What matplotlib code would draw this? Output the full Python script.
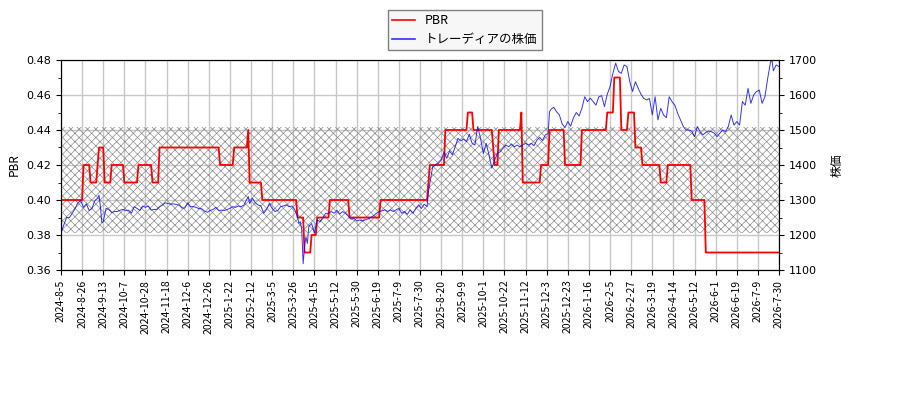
import matplotlib
matplotlib.use("Agg")
import numpy as np
import matplotlib.pyplot as plt
from matplotlib.ticker import MultipleLocator

# tick dates (every 15 trading days)
tick_labels = [
    "2024-8-5", "2024-8-26", "2024-9-13", "2024-10-7", "2024-10-28",
    "2024-11-18", "2024-12-6", "2024-12-26", "2025-1-22", "2025-2-12",
    "2025-3-5", "2025-3-26", "2025-4-15", "2025-5-12", "2025-5-30",
    "2025-6-19", "2025-7-9", "2025-7-30", "2025-8-20", "2025-9-9",
    "2025-10-1", "2025-10-22", "2025-11-12", "2025-12-3", "2025-12-23",
    "2026-1-16", "2026-2-5", "2026-2-27", "2026-3-19", "2026-4-14",
    "2026-5-12", "2026-6-1", "2026-6-19", "2026-7-9", "2026-7-30",
]

# PBR as runs: value, number of trading days
pbr_values = [0.40, 0.42, 0.41, 0.42, 0.43, 0.41, 0.42, 0.41, 0.42, 0.41,
              0.43, 0.42, 0.43, 0.44, 0.41, 0.40, 0.39, 0.37, 0.38, 0.39,
              0.40, 0.39, 0.40, 0.41, 0.42, 0.44, 0.45, 0.44, 0.43, 0.42,
              0.44, 0.45, 0.41, 0.42, 0.44, 0.42, 0.44, 0.45, 0.47, 0.44,
              0.45, 0.43, 0.42, 0.41, 0.42, 0.40, 0.37]
pbr_runs = [16, 5, 5, 1, 4, 5, 9, 10, 10, 5,
            43, 10, 10, 1, 9, 25, 5, 5, 4, 9,
            14, 22, 34, 1, 11, 16, 4, 14, 1, 3,
            16, 1, 13, 6, 11, 12, 18, 5, 5, 5,
            5, 5, 13, 5, 17, 10, 53]

# share price (trading-day index, yen)
price_day = [
    0, 2, 4, 6, 8, 10, 12, 14, 16, 18, 20, 22, 24, 26, 27, 28, 29, 30, 32, 34,
    36, 38, 40, 42, 44, 46, 48, 50, 52, 54, 56, 58, 60, 62, 64, 66, 68, 70, 72, 74,
    76, 78, 80, 82, 84, 86, 88, 90, 92, 94, 96, 98, 100, 102, 104, 106, 108, 110, 112, 114,
    116, 118, 120, 122, 124, 126, 128, 130, 132, 133, 134, 136, 138, 140, 142, 144, 146, 148, 150, 152,
    154, 156, 158, 160, 162, 164, 166, 168, 169, 170, 171, 172, 173, 174, 175, 176, 178, 180, 182, 184,
    186, 188, 190, 192, 194, 196, 198, 200, 202, 204, 206, 208, 210, 212, 214, 216, 218, 220, 222, 224,
    226, 228, 230, 232, 234, 236, 238, 240, 242, 244, 246, 248, 250, 252, 254, 256, 258, 260, 261, 262,
    264, 266, 268, 270, 272, 274, 276, 278, 280, 282, 284, 286, 288, 290, 292, 294, 296, 298, 300, 302,
    304, 306, 308, 310, 312, 314, 316, 318, 320, 322, 324, 326, 328, 330, 332, 334, 336, 338, 340, 342,
    344, 346, 347, 348, 350, 352, 354, 356, 358, 360, 362, 364, 366, 368, 370, 372, 374, 376, 378, 380,
    382, 384, 386, 388, 390, 392, 394, 396, 398, 400, 402, 404, 406, 408, 410, 412, 414, 416, 418, 420,
    422, 424, 426, 428, 430, 432, 434, 436, 438, 440, 442, 444, 446, 448, 450, 452, 454, 456, 458, 460,
    462, 464, 466, 468, 470, 472, 474, 476, 478, 480, 482, 484, 486, 488, 490, 492, 494, 496, 498, 500,
    502, 504, 505, 506, 508, 510,
]
price_val = [
    1205, 1229, 1250, 1250, 1262, 1276, 1292, 1298, 1279, 1289, 1270, 1276, 1298, 1305, 1314, 1281, 1235, 1238, 1276, 1273,
    1264, 1267, 1267, 1271, 1273, 1270, 1271, 1262, 1281, 1276, 1270, 1283, 1279, 1283, 1271, 1273, 1273, 1281, 1285, 1292,
    1290, 1288, 1289, 1287, 1285, 1277, 1277, 1292, 1281, 1281, 1279, 1275, 1275, 1268, 1265, 1270, 1273, 1279, 1270, 1271,
    1270, 1273, 1276, 1281, 1279, 1283, 1281, 1286, 1302, 1310, 1290, 1305, 1292, 1286, 1283, 1262, 1273, 1290, 1276, 1267,
    1270, 1281, 1283, 1286, 1281, 1283, 1273, 1252, 1233, 1238, 1214, 1118, 1167, 1195, 1176, 1224, 1233, 1205, 1243, 1238,
    1250, 1262, 1262, 1267, 1262, 1270, 1260, 1267, 1262, 1254, 1245, 1248, 1240, 1243, 1240, 1243, 1246, 1250, 1255, 1262,
    1267, 1269, 1272, 1267, 1272, 1267, 1272, 1276, 1262, 1267, 1259, 1272, 1262, 1276, 1286, 1276, 1288, 1281, 1324, 1348,
    1395, 1400, 1405, 1414, 1436, 1419, 1440, 1429, 1452, 1476, 1469, 1474, 1467, 1488, 1462, 1457, 1510, 1476, 1433, 1462,
    1429, 1391, 1414, 1433, 1438, 1448, 1457, 1452, 1460, 1452, 1457, 1452, 1457, 1462, 1457, 1462, 1455, 1471, 1479, 1470,
    1486, 1490, 1552, 1559, 1565, 1552, 1543, 1517, 1507, 1524, 1511, 1535, 1550, 1540, 1562, 1595, 1581, 1591, 1581, 1571,
    1595, 1598, 1567, 1602, 1624, 1662, 1691, 1667, 1662, 1686, 1681, 1638, 1610, 1638, 1619, 1602, 1590, 1586, 1590, 1543,
    1595, 1529, 1562, 1543, 1535, 1595, 1581, 1571, 1548, 1529, 1510, 1500, 1500, 1497, 1481, 1510, 1495, 1486, 1493, 1497,
    1495, 1491, 1481, 1491, 1500, 1495, 1510, 1543, 1514, 1524, 1514, 1581, 1571, 1619, 1576, 1600, 1610, 1614, 1576, 1595,
    1648, 1695, 1700, 1669, 1686, 1681,
]

# hatched PBR band
band_low = 0.381
band_high = 0.4415

pbr = np.repeat(pbr_values, pbr_runs)
pbr_day = np.arange(len(pbr))

jp = ["Noto Sans CJK JP", "DejaVu Sans"]
plt.rcParams["hatch.linewidth"] = 0.5

fig = plt.figure(figsize=(9, 4), dpi=100)
ax1 = fig.add_axes([61 / 900, 1 - 270 / 400, 718 / 900, 210 / 400])
ax2 = ax1.twinx()

ax1.axhspan(band_low, band_high, facecolor="none", edgecolor="#8c8c8c",
            hatch="xxxx", linewidth=0, zorder=1)
ax1.grid(True, color="#c8c8c8", linewidth=1.0, zorder=0)
ax1.set_axisbelow(True)

l1, = ax1.plot(pbr_day, pbr, color="red", linewidth=1.3, label="PBR", zorder=3)
l2, = ax2.plot(price_day, price_val, color="blue", linewidth=0.7, alpha=0.8,
               label="トレーディアの株価")

ax1.set_xlim(0, 510)
ax1.set_ylim(0.36, 0.48)
ax2.set_ylim(1100, 1700)
ax1.yaxis.set_major_locator(MultipleLocator(0.02))
ax1.yaxis.set_minor_locator(MultipleLocator(0.01))
ax2.yaxis.set_major_locator(MultipleLocator(100))
ax2.yaxis.set_minor_locator(MultipleLocator(50))
ax1.yaxis.set_major_formatter(plt.FuncFormatter(lambda v, p: f"{v:.2f}"))

ax1.set_xticks(np.arange(0, 511, 15))
ax1.set_xticklabels(tick_labels, rotation=90, fontsize=7.5, family=jp)
ax1.tick_params(axis="y", labelsize=8)
ax2.tick_params(axis="y", labelsize=8)

ax1.set_ylabel("PBR", fontsize=8.5, family=jp, labelpad=4)
ax2.set_ylabel("株価", fontsize=8.5, family=jp, labelpad=10)

leg = fig.legend([l1, l2], ["PBR", "トレーディアの株価"], loc="upper left",
                 bbox_to_anchor=(388 / 900, 1 - 10 / 400), borderaxespad=0,
                 prop={"family": jp, "size": 9},
                 fancybox=False, edgecolor="#808080", framealpha=1.0,
                 facecolor="#f7f7f7", handlelength=1.8, labelspacing=0.45,
                 borderpad=0.35)
for h in leg.get_lines():
    h.set_linewidth(1.2)

fig.savefig("out.png", dpi=100)
